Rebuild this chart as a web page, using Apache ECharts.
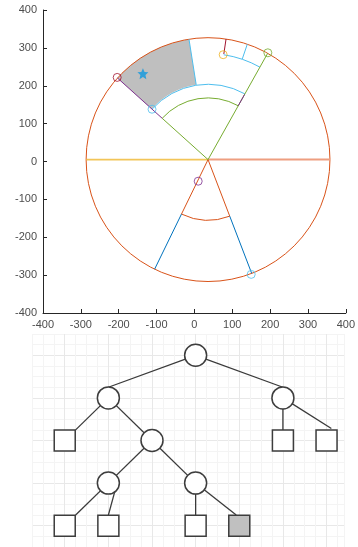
<!DOCTYPE html>
<html><head><meta charset="utf-8">
<script src="https://cdn.jsdelivr.net/npm/echarts@6/dist/echarts.min.js"></script>
<style>html,body{margin:0;padding:0;background:#fff}#c{width:358px;height:547px}</style>
</head><body><div id="c"></div>
<script>
// ================= TOP CHART DATA =================
const axisMin = -400, axisMax = 400, axisStep = 100;
const center = [36, 5];
const outerRadius = 322;
// radial segments (angle in degrees, inner radius, outer radius)
const radialAngles = [180, 0, -116, -116, -69, -69, 138, 138, 60.7, 60.7, 99, 71.2, 81.5];
const radialInner  = [0,   0,   0,  160,   0, 160,   0, 163,    0,  163, 200, 280, 282];
const radialOuter  = [322, 322, 160, 322, 160, 322, 163, 322,  322,  197, 322, 322, 322];
const radialColorKeys = ['yellow','salmon','orange','blue','orange','blue','green','purple','green','purple','lightblue','lightblue','darkred'];
// arcs (radius, start angle, end angle)
const arcRadius = [160, 163, 199, 280];
const arcStart  = [-116, 60.7, 60.7, 60.7];
const arcEnd    = [-69, 138, 138, 81.5];
const arcColorKeys = ['orange','green','lightblue','lightblue'];
// shaded annular sector
const sectorInner = [200], sectorOuter = [322], sectorStart = [99], sectorEnd = [138];
// hollow circle markers
const markerX = [-204, -112, 76, 194, 10, 150];
const markerY = [222, 138, 282, 287, -52, -298];
const markerColorKeys = ['darkred','lightblue','yellow','green','purple','lightblue'];
// star marker
const starX = [-136], starY = [232];

// ================= BOTTOM TREE DATA =================
const nodeX = [4, 2, 6, 1, 3, 6, 7, 2, 4, 1, 2, 4, 5];
const nodeY = [1, 2, 2, 3, 3, 3, 3, 4, 4, 5, 5, 5, 5];
const nodeKinds = ['circle','circle','circle','square','circle','square','square','circle','circle','square','square','square','square'];
const nodeShaded = [0,0,0,0,0,0,0,0,0,0,0,0,1];
const edgeX1 = [4, 4, 2, 2, 6, 6, 3, 3, 2, 2.2, 4, 4];
const edgeY1 = [1, 1, 2, 2, 2, 2, 3, 3, 4, 4, 4, 4];
const edgeX2 = [2, 6, 1.25, 3, 6, 7.11, 2, 4, 1.25, 2, 4, 4.93];
const edgeY2 = [1.75, 1.75, 2.75, 3, 3, 2.72, 4, 4, 4.75, 4.75, 5, 4.75];

// ================= STYLES =================
const C = {
  blue:'#0072BD', orange:'#D95319', yellow:'#EDB120', purple:'#7E2F8E',
  green:'#77AC30', lightblue:'#4DBEEE', darkred:'#A2142F', salmon:'#EE9E80'
};
const radialWidth = {yellow:1.6, salmon:2};
const chart = echarts.init(document.getElementById('c'), null, {renderer:'canvas'});
const rad = d => d * Math.PI / 180;
function polar(a, r){ return [center[0] + r*Math.cos(rad(a)), center[1] + r*Math.sin(rad(a))]; }
function pxRadius(api, r){ const s = api.size([r, r]); return (s[0] + s[1]) / 2; }

const font = 'Liberation Sans, Arial, Helvetica, sans-serif';
const minorC = '#f4f4f4', majorC = '#e8e8e8';

const option = {
  animation: false,
  backgroundColor: '#fff',
  grid: [
    {left: 43, top: 10, width: 305, height: 303},
    {left: 32, top: 334, width: 312, height: 218.75}
  ],
  xAxis: [
    {gridIndex:0, type:'value', min:axisMin, max:axisMax, interval:axisStep,
     axisLine:{onZero:false, lineStyle:{color:'#262626', width:1}},
     axisTick:{inside:true, length:4, lineStyle:{color:'#262626'}},
     axisLabel:{color:'#4d4d4d', fontSize:11, fontFamily:font, margin:6},
     splitLine:{show:false}},
    {gridIndex:1, type:'value', min:0.25, max:7.4, interval:0.25,
     axisLine:{show:false}, axisTick:{show:false}, axisLabel:{show:false},
     splitLine:{show:true, lineStyle:{color:[minorC, minorC, minorC, majorC], width:1}}}
  ],
  yAxis: [
    {gridIndex:0, type:'value', min:axisMin, max:axisMax, interval:axisStep,
     axisLine:{show:true, onZero:false, lineStyle:{color:'#262626', width:1}},
     axisTick:{show:true, inside:true, length:4, lineStyle:{color:'#262626'}},
     axisLabel:{color:'#4d4d4d', fontSize:11, fontFamily:font, margin:6},
     splitLine:{show:false}},
    {gridIndex:1, type:'value', min:0.5, max:5.5, interval:0.25, inverse:true,
     axisLine:{show:false}, axisTick:{show:false}, axisLabel:{show:false},
     splitLine:{show:true, lineStyle:{color:[minorC, minorC, majorC, minorC], width:1}}}
  ],
  series: [
    {type:'custom', xAxisIndex:0, yAxisIndex:0, z:1,
     data: sectorInner.map((r0,i)=>[r0, sectorOuter[i], sectorStart[i], sectorEnd[i]]),
     renderItem:(p, api)=>{
       const c = api.coord(center);
       return {type:'sector', shape:{cx:c[0], cy:c[1], r0:pxRadius(api, api.value(0)), r:pxRadius(api, api.value(1)),
         startAngle:-rad(api.value(3)), endAngle:-rad(api.value(2)), clockwise:true},
         style:{fill:'#bfbfbf', stroke:null}};
     }},
    {type:'custom', xAxisIndex:0, yAxisIndex:0, z:2,
     data:[[outerRadius]],
     renderItem:(p, api)=>{
       const c = api.coord(center);
       return {type:'circle', shape:{cx:c[0], cy:c[1], r:pxRadius(api, api.value(0))},
         style:{fill:null, stroke:C.orange, lineWidth:1}};
     }},
    {type:'custom', xAxisIndex:0, yAxisIndex:0, z:3,
     data: arcRadius.map((r,i)=>[r, arcStart[i], arcEnd[i]]),
     renderItem:(p, api)=>{
       const c = api.coord(center);
       return {type:'arc', shape:{cx:c[0], cy:c[1], r:pxRadius(api, api.value(0)),
         startAngle:-rad(api.value(2)), endAngle:-rad(api.value(1)), clockwise:true},
         style:{fill:null, stroke:C[arcColorKeys[p.dataIndex]], lineWidth:1}};
     }},
    {type:'custom', xAxisIndex:0, yAxisIndex:0, z:4,
     data: radialAngles.map((a,i)=>[a, radialInner[i], radialOuter[i]]),
     renderItem:(p, api)=>{
       const a = api.value(0);
       const p0 = api.coord(polar(a, api.value(1)));
       const p1 = api.coord(polar(a, api.value(2)));
       const key = radialColorKeys[p.dataIndex];
       return {type:'line', shape:{x1:p0[0], y1:p0[1], x2:p1[0], y2:p1[1]},
         style:{stroke:C[key], lineWidth: radialWidth[key] || 1, opacity: key==='yellow'?0.75:1}};
     }},
    {type:'scatter', xAxisIndex:0, yAxisIndex:0, z:6, symbol:'circle', symbolSize:8,
     data: markerX.map((x,i)=>({value:[x, markerY[i]],
       itemStyle:{color:'rgba(0,0,0,0)', borderColor:C[markerColorKeys[i]], borderWidth:1}}))},
    {type:'scatter', xAxisIndex:0, yAxisIndex:0, z:6,
     symbol:'path://M12,1 L15.2,8.2 L23,9 L17.1,14.3 L18.8,22 L12,18 L5.2,22 L6.9,14.3 L1,9 L8.8,8.2 Z',
     symbolSize:11,
     data: starX.map((x,i)=>[x, starY[i]]),
     itemStyle:{color:'#0F98E0'}},
    {type:'custom', xAxisIndex:1, yAxisIndex:1, z:5,
     data: edgeX1.map((x,i)=>[x, edgeY1[i], edgeX2[i], edgeY2[i]]),
     renderItem:(p, api)=>{
       const a = api.coord([api.value(0), api.value(1)]);
       const b = api.coord([api.value(2), api.value(3)]);
       return {type:'line', shape:{x1:a[0], y1:a[1], x2:b[0], y2:b[1]},
         style:{stroke:'#3a3a3a', lineWidth:1.3}};
     }},
    {type:'scatter', xAxisIndex:1, yAxisIndex:1, z:7,
     data: nodeX.map((x,i)=>({value:[x, nodeY[i]],
       symbol: nodeKinds[i]==='circle' ? 'circle' : 'rect',
       symbolSize: nodeKinds[i]==='circle' ? 22 : 21,
       itemStyle:{color: nodeShaded[i] ? '#c0c0c0' : '#ffffff', borderColor:'#3d3d3d', borderWidth:1.5}})),
     itemStyle:{opacity:1}}
  ]
};
chart.setOption(option);
</script>
</body></html>
